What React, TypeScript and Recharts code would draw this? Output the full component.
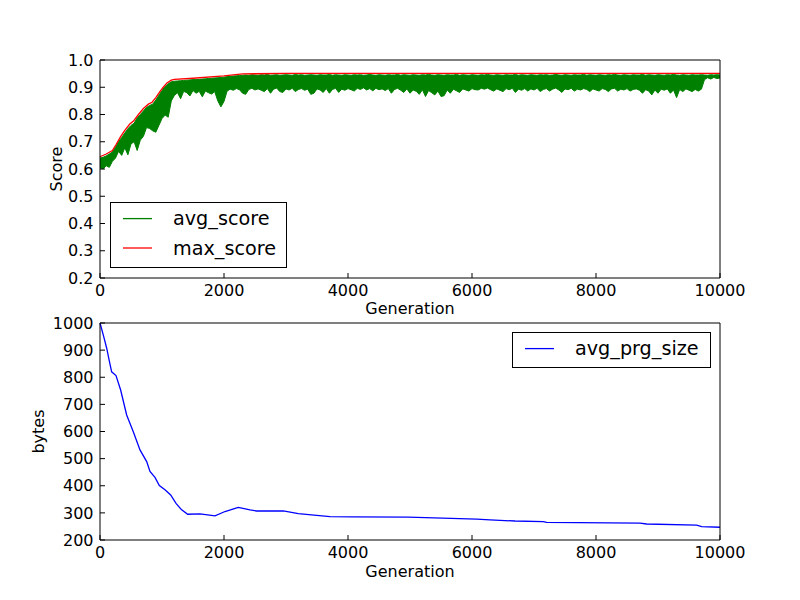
import { Area, ComposedChart, Legend, Line, LineChart, XAxis, YAxis } from "recharts";

// avg_score is sampled every 50 generations; the band is the min/max of the noisy line
const SAMPLE_STEP = 50;

const avgScoreLow = [
  0.605, 0.6, 0.612, 0.606, 0.628, 0.64, 0.665, 0.65, 0.678, 0.652,
  0.692, 0.7, 0.668, 0.706, 0.72, 0.752, 0.749, 0.74, 0.735, 0.76,
  0.785, 0.798, 0.79, 0.85, 0.87, 0.88, 0.858, 0.885, 0.88, 0.868,
  0.888, 0.878, 0.885, 0.865, 0.886, 0.88, 0.875, 0.884, 0.85, 0.828,
  0.848, 0.886, 0.893, 0.889, 0.895, 0.891, 0.878, 0.874, 0.892, 0.896,
  0.89, 0.894, 0.889, 0.884, 0.895, 0.878, 0.893, 0.897, 0.884, 0.881,
  0.894, 0.89, 0.896, 0.884, 0.892, 0.895, 0.889, 0.893, 0.874, 0.878,
  0.894, 0.89, 0.881, 0.895, 0.878, 0.892, 0.896, 0.881, 0.893, 0.889,
  0.895, 0.891, 0.886, 0.896, 0.892, 0.898, 0.89, 0.895, 0.887, 0.896,
  0.891, 0.894, 0.888, 0.895, 0.878, 0.892, 0.896, 0.889, 0.881, 0.894,
  0.878, 0.89, 0.885, 0.874, 0.891, 0.866, 0.888, 0.88, 0.872, 0.886,
  0.866, 0.869, 0.89, 0.878, 0.893, 0.887, 0.881, 0.894, 0.89, 0.886,
  0.895, 0.891, 0.89, 0.896, 0.893, 0.897, 0.891, 0.886, 0.894, 0.889,
  0.884, 0.895, 0.891, 0.896, 0.881, 0.893, 0.889, 0.895, 0.886, 0.894,
  0.89, 0.896, 0.884, 0.892, 0.895, 0.886, 0.893, 0.897, 0.89, 0.881,
  0.894, 0.891, 0.896, 0.886, 0.893, 0.89, 0.895, 0.892, 0.884, 0.894,
  0.89, 0.886, 0.895, 0.892, 0.884, 0.894, 0.896, 0.886, 0.893, 0.89,
  0.895, 0.886, 0.892, 0.894, 0.889, 0.878, 0.891, 0.886, 0.872, 0.89,
  0.878, 0.893, 0.889, 0.894, 0.878, 0.89, 0.862, 0.892, 0.884, 0.894,
  0.889, 0.884, 0.892, 0.886, 0.893, 0.928, 0.935, 0.93, 0.936, 0.932,
  0.934,
];

const avgScoreHigh = [
  0.64, 0.643, 0.648, 0.655, 0.662, 0.68, 0.7, 0.716, 0.732, 0.748,
  0.76, 0.768, 0.788, 0.8, 0.813, 0.826, 0.833, 0.838, 0.853, 0.871,
  0.888, 0.903, 0.913, 0.92, 0.922, 0.923, 0.924, 0.925, 0.926, 0.927,
  0.928, 0.928, 0.929, 0.93, 0.931, 0.932, 0.933, 0.934, 0.935, 0.936,
  0.937, 0.939, 0.94, 0.941, 0.942, 0.943, 0.944, 0.945, 0.944, 0.946,
  0.945, 0.944, 0.946, 0.945, 0.947, 0.944, 0.945, 0.946, 0.944, 0.945,
  0.946, 0.945, 0.944, 0.947, 0.945, 0.946, 0.944, 0.945, 0.946, 0.945,
  0.944, 0.946, 0.945, 0.945, 0.947, 0.944, 0.946, 0.945, 0.944, 0.946,
  0.945, 0.944, 0.946, 0.945, 0.946, 0.944, 0.945, 0.947, 0.945, 0.944,
  0.946, 0.945, 0.944, 0.946, 0.945, 0.945, 0.947, 0.944, 0.946, 0.945,
  0.944, 0.946, 0.945, 0.944, 0.946, 0.945, 0.947, 0.945, 0.944, 0.946,
  0.945, 0.944, 0.946, 0.945, 0.945, 0.947, 0.944, 0.946, 0.945, 0.944,
  0.946, 0.945, 0.944, 0.946, 0.945, 0.947, 0.945, 0.944, 0.946, 0.945,
  0.944, 0.946, 0.945, 0.945, 0.947, 0.944, 0.946, 0.945, 0.944, 0.946,
  0.945, 0.944, 0.946, 0.945, 0.946, 0.944, 0.945, 0.947, 0.945, 0.944,
  0.946, 0.945, 0.944, 0.946, 0.945, 0.945, 0.947, 0.944, 0.946, 0.945,
  0.944, 0.946, 0.945, 0.944, 0.946, 0.945, 0.947, 0.945, 0.944, 0.946,
  0.945, 0.944, 0.946, 0.945, 0.945, 0.947, 0.944, 0.946, 0.945, 0.944,
  0.946, 0.945, 0.944, 0.946, 0.945, 0.947, 0.945, 0.944, 0.946, 0.945,
  0.944, 0.946, 0.945, 0.945, 0.946, 0.945, 0.944, 0.946, 0.945, 0.946,
  0.945,
];

const maxScoreGens = [
  0, 100, 200, 260, 330, 400, 480, 540, 620, 700, 780, 840,
  900, 960, 1020, 1080, 1150, 1200, 1500, 2000, 2300, 3000, 10000,
];
const maxScoreValues = [
  0.645, 0.655, 0.668, 0.69, 0.718, 0.742, 0.765, 0.776, 0.8, 0.822, 0.838, 0.845,
  0.862, 0.882, 0.9, 0.916, 0.926, 0.929, 0.933, 0.942, 0.949, 0.951, 0.951,
];

const prgSizeGens = [
  0, 60, 108, 150, 188, 258, 333, 430, 537, 645, 753, 806, 887, 957,
  1048, 1140, 1226, 1317, 1414, 1613, 1855, 2016, 2231, 2420, 2527, 2957,
  3199, 3495, 3710, 4086, 4973, 6075, 6290, 6694, 7150, 7204, 8710, 8817,
  9624, 9704, 10000,
];
const prgSizeValues = [
  1000, 950, 907, 860, 820, 806, 753, 661, 599, 532, 489, 453, 431, 401,
  385, 366, 335, 311, 295, 296, 289, 305, 320, 311, 307, 307,
  297, 291, 286, 285, 284, 277, 274, 270, 268, 265, 262, 259,
  255, 249, 247,
];

const genTicks = [0, 2000, 4000, 6000, 8000, 10000];
const scoreTicks = [0.2, 0.3, 0.4, 0.5, 0.6, 0.7, 0.8, 0.9, 1.0];
const bytesTicks = [200, 300, 400, 500, 600, 700, 800, 900, 1000];

const scoreLegend = [
  { label: "avg_score", color: "#008000" },
  { label: "max_score", color: "#ff0000" },
];
const sizeLegend = [{ label: "avg_prg_size", color: "#0000ff" }];

const scoreData = avgScoreLow.map((low, i) => ({ gen: i * SAMPLE_STEP, avg: [low, avgScoreHigh[i]] }));
const maxData = maxScoreGens.map((gen, i) => ({ gen, max: maxScoreValues[i] }));
const prgData = prgSizeGens.map((gen, i) => ({ gen, size: prgSizeValues[i] }));

const FONT = "'DejaVu Sans', sans-serif";
const tickStyle = { fill: "#000", fontSize: 16, fontFamily: FONT };
const textStyle = { fill: "#000", fontSize: 16, fontFamily: FONT };

function xTitle(text: string, baseline: number) {
  return (props: any) => {
    const vb = props.viewBox;
    return (
      <text x={vb.x + vb.width / 2} y={vb.y + baseline} textAnchor="middle" style={textStyle}>
        {text}
      </text>
    );
  };
}

function yTitle(text: string, baseX: number) {
  return (props: any) => {
    const vb = props.viewBox;
    const cy = vb.y + vb.height / 2;
    return (
      <text x={baseX} y={cy} textAnchor="middle" transform={`rotate(-90 ${baseX} ${cy})`} style={textStyle}>
        {text}
      </text>
    );
  };
}

function LegendBox({ items, width, height }: { items: { label: string; color: string }[]; width: number; height: number }) {
  return (
    <svg width={width} height={height} style={{ display: "block" }}>
      <rect x={0.5} y={0.5} width={width - 1} height={height - 1} fill="#fff" stroke="#000" />
      {items.map((it, i) => {
        const y = 16.6 + i * 29.4;
        return (
          <g key={it.label}>
            <line x1={13} x2={42} y1={y} y2={y} stroke={it.color} strokeWidth={1.3} />
            <text x={63} y={y} dominantBaseline="central" style={{ fill: "#000", fontSize: 19.2, fontFamily: FONT }}>
              {it.label}
            </text>
          </g>
        );
      })}
    </svg>
  );
}

const axisProps = {
  stroke: "#000",
  tickSize: -5,
  tickLine: { stroke: "#000" },
  interval: 0 as const,
};

export default function App() {
  return (
    <div style={{ position: "absolute", left: 0, top: 0, width: 800, height: 600, background: "#fff" }}>
      <div style={{ position: "absolute", left: 0, top: 0 }}>
        <ComposedChart width={800} height={330} data={scoreData} margin={{ top: 59, right: 79, bottom: 0, left: 0 }}>
          <XAxis
            {...axisProps}
            dataKey="gen"
            type="number"
            domain={[0, 10000]}
            ticks={genTicks}
            height={52}
            tickMargin={12}
            tick={tickStyle}
            label={xTitle("Generation", 36)}
          />
          <XAxis {...axisProps} xAxisId="top" orientation="top" dataKey="gen" type="number" domain={[0, 10000]} ticks={genTicks} height={1} tick={false} />
          <YAxis
            {...axisProps}
            type="number"
            domain={[0.2, 1.0]}
            ticks={scoreTicks}
            width={100}
            tickMargin={11.5}
            tick={tickStyle}
            tickFormatter={(v: number) => v.toFixed(1)}
            label={yTitle("Score", 62)}
          />
          <YAxis {...axisProps} yAxisId="right" orientation="right" type="number" domain={[0.2, 1.0]} ticks={scoreTicks} width={1} tick={false} />
          <Area
            dataKey="avg"
            type="linear"
            stroke="#008000"
            strokeWidth={1}
            fill="#008000"
            fillOpacity={1}
            dot={false}
            activeDot={false}
            isAnimationActive={false}
          />
          <Line data={maxData} dataKey="max" type="linear" stroke="#ff0000" strokeWidth={1.3} dot={false} activeDot={false} isAnimationActive={false} />
          <Legend
            layout="vertical"
            align="center"
            verticalAlign="middle"
            wrapperStyle={{ left: 110, top: 201.7, width: 177, height: 66 }}
            content={() => <LegendBox items={scoreLegend} width={177} height={66} />}
          />
        </ComposedChart>
      </div>
      <div style={{ position: "absolute", left: 0, top: 300 }}>
        <LineChart width={800} height={300} data={prgData} margin={{ top: 22, right: 79, bottom: 0, left: 0 }}>
          <XAxis
            {...axisProps}
            dataKey="gen"
            type="number"
            domain={[0, 10000]}
            ticks={genTicks}
            height={60}
            tickMargin={12}
            tick={tickStyle}
            label={xTitle("Generation", 37)}
          />
          <XAxis {...axisProps} xAxisId="top" orientation="top" dataKey="gen" type="number" domain={[0, 10000]} ticks={genTicks} height={1} tick={false} />
          <YAxis
            {...axisProps}
            type="number"
            domain={[200, 1000]}
            ticks={bytesTicks}
            width={100}
            tickMargin={11.5}
            tick={tickStyle}
            label={yTitle("bytes", 44)}
          />
          <YAxis {...axisProps} yAxisId="right" orientation="right" type="number" domain={[200, 1000]} ticks={bytesTicks} width={1} tick={false} />
          <Line dataKey="size" type="linear" stroke="#0000ff" strokeWidth={1.3} dot={false} activeDot={false} isAnimationActive={false} />
          <Legend
            layout="vertical"
            align="center"
            verticalAlign="middle"
            wrapperStyle={{ left: 511.7, top: 31.7, width: 199, height: 36 }}
            content={() => <LegendBox items={sizeLegend} width={199} height={36} />}
          />
        </LineChart>
      </div>
    </div>
  );
}
